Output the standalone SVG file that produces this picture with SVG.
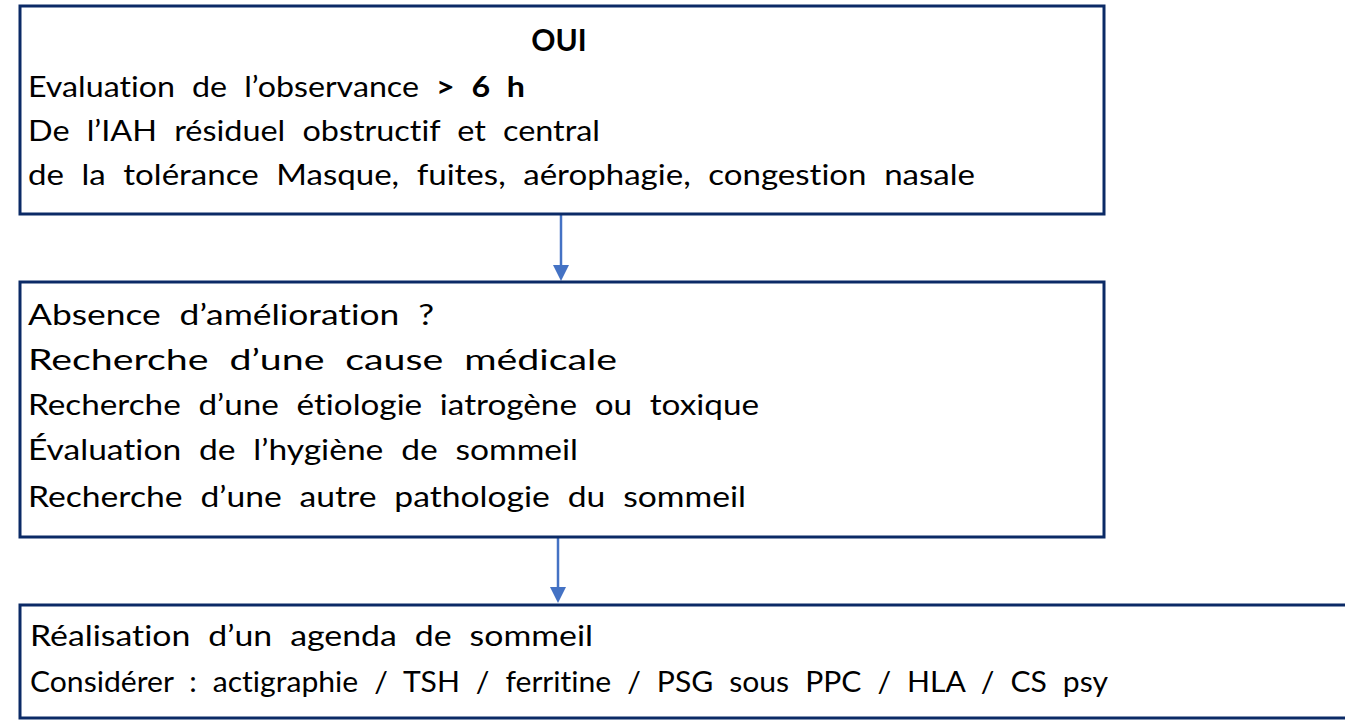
<svg xmlns="http://www.w3.org/2000/svg" width="1345" height="721" viewBox="0 0 1345 721">
<style>
.box{fill:#ffffff;stroke:#0b2a66;stroke-width:3}
.t{font-family:Lato,"Open Sans","Liberation Sans",sans-serif;font-size:29px;fill:#000000;font-variant-ligatures:none;word-spacing:8px}
.b{font-weight:bold}
.conn{stroke:#4472c4;stroke-width:2.5;fill:none}
.head{fill:#4472c4}
</style>
<rect width="1345" height="721" fill="#ffffff"/>
<g id="connectors">
<line class="conn" x1="561" y1="215" x2="561" y2="266"/>
<path class="head" d="M553,265 L569,265 L561,281 Z"/>
<line class="conn" x1="558" y1="538" x2="558" y2="588"/>
<path class="head" d="M550,587 L566,587 L558,603 Z"/>
</g>
<g id="node1">
<rect class="box" x="20" y="6" width="1084" height="208"/>
<text class="t b" x="559" y="51" text-anchor="middle" style="font-size:30px">OUI</text>
<text class="t" x="28" y="97" textLength="497" lengthAdjust="spacingAndGlyphs">Evaluation de l’observance <tspan class="b">&gt; 6 h</tspan></text>
<text class="t" x="28" y="141" textLength="572" lengthAdjust="spacingAndGlyphs">De l’IAH résiduel obstructif et central</text>
<text class="t" x="28" y="185" textLength="947" lengthAdjust="spacingAndGlyphs">de la tolérance  Masque, fuites, aérophagie, congestion nasale</text>
</g>
<g id="node2">
<rect class="box" x="20" y="282" width="1084" height="255"/>
<text class="t" x="28" y="325" textLength="406" lengthAdjust="spacingAndGlyphs">Absence d’amélioration ?</text>
<text class="t" x="28" y="370" textLength="589" lengthAdjust="spacingAndGlyphs">Recherche d’une cause médicale</text>
<text class="t" x="28" y="415" textLength="731" lengthAdjust="spacingAndGlyphs">Recherche d’une étiologie iatrogène ou toxique</text>
<text class="t" x="28" y="460" textLength="550" lengthAdjust="spacingAndGlyphs">Évaluation de l’hygiène de sommeil</text>
<text class="t" x="28" y="507" textLength="718" lengthAdjust="spacingAndGlyphs">Recherche d’une autre pathologie du sommeil</text>
</g>
<g id="node3">
<rect class="box" x="20" y="605" width="1340" height="113"/>
<text class="t" x="30" y="646" textLength="563" lengthAdjust="spacingAndGlyphs">Réalisation d’un agenda de sommeil</text>
<text class="t" x="30" y="692" textLength="1078" lengthAdjust="spacingAndGlyphs">Considérer : actigraphie / TSH / ferritine / PSG sous PPC / HLA / CS psy</text>
</g>
</svg>
